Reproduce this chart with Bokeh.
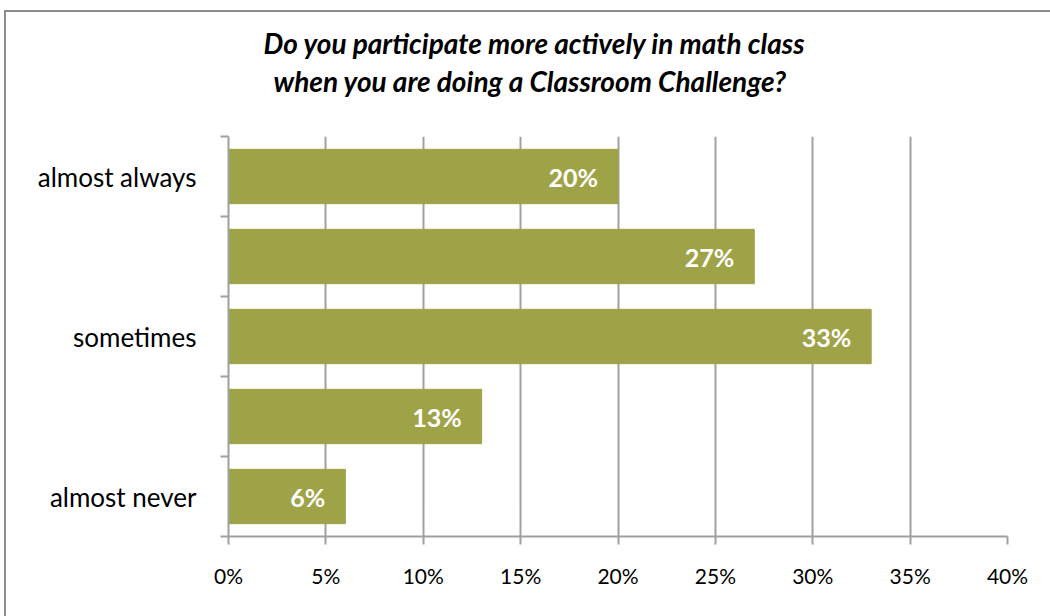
from bokeh.plotting import figure
from bokeh.models import ColumnDataSource, FixedTicker, Range1d, LabelSet, Title
from bokeh.core.properties import value
from bokeh.embed import file_html
from bokeh.resources import INLINE

# ---- data ----
categories = ["almost always", "", "sometimes", "", "almost never"]  # top to bottom
values = [20, 27, 33, 13, 6]
x_ticks = [0, 5, 10, 15, 20, 25, 30, 35, 40]
x_tick_labels = ["0%", "5%", "10%", "15%", "20%", "25%", "30%", "35%", "40%"]
title_lines = ["Do you participate more actively in math class",
               "when you are doing a Classroom Challenge?"]

FONT = "Lato"
BAR = "#9FA347"
GRID = "#A0A0A0"

n = len(categories)
ypos = [n - 0.5 - i for i in range(n)]
src = ColumnDataSource(dict(y=ypos, v=values, lab=[f"{v}%" for v in values]))

p = figure(width=1046, height=606, output_backend="svg", toolbar_location=None,
           x_range=Range1d(0, 40), y_range=Range1d(0, n),
           min_border_left=222, min_border_right=45, min_border_top=124, min_border_bottom=82)
p.margin = (10, 0, 0, 4)
p.styles = {"border-top": "2px solid #8C8C8C", "border-left": "2px solid #8C8C8C"}
p.outline_line_color = None

p.hbar(y="y", right="v", left=0, height=0.68, color=BAR, source=src)

labels = LabelSet(x="v", y="y", text="lab", source=src, x_offset=-20,
                  text_align="right", text_baseline="middle", text_color="white",
                  text_font=value(FONT), text_font_style="bold", text_font_size="25px")
p.add_layout(labels)

# x axis
p.xaxis.ticker = FixedTicker(ticks=x_ticks)
p.xaxis.major_label_overrides = {t: l for t, l in zip(x_ticks, x_tick_labels)}
p.xaxis.axis_line_color = GRID
p.xaxis.axis_line_width = 2
p.xaxis.major_tick_line_color = GRID
p.xaxis.major_tick_line_width = 2
p.xaxis.major_tick_in = 0
p.xaxis.major_tick_out = 8
p.xaxis.minor_tick_line_color = None
p.xaxis.major_label_text_font = FONT
p.xaxis.major_label_text_font_size = "21px"
p.xaxis.major_label_text_color = "black"
p.xaxis.major_label_standoff = 18

# y axis: labels at centers, ticks at boundaries (as minor ticks)
p.yaxis.ticker = FixedTicker(ticks=ypos, minor_ticks=list(range(n + 1)))
p.yaxis.major_label_overrides = {y: c for y, c in zip(ypos, categories)}
p.yaxis.axis_line_color = GRID
p.yaxis.axis_line_width = 2
p.yaxis.major_tick_line_color = None
p.yaxis.minor_tick_line_color = GRID
p.yaxis.minor_tick_line_width = 2
p.yaxis.minor_tick_in = 0
p.yaxis.minor_tick_out = 8
p.yaxis.major_label_text_font = FONT
p.yaxis.major_label_text_font_size = "26px"
p.yaxis.major_label_text_color = "black"
p.yaxis.major_label_standoff = 24

p.ygrid.grid_line_color = None
p.xgrid.ticker = FixedTicker(ticks=x_ticks)
p.xgrid.grid_line_color = GRID
p.xgrid.grid_line_width = 2

# spacer between the plot area and the title block
p.add_layout(Title(text=" ", text_font_size="2px", standoff=34), "above")
# two-line title (later-added title sits on top)
title_offsets = [35, 45]
title_standoffs = [2, 2]
for line, off, so in reversed(list(zip(title_lines, title_offsets, title_standoffs))):
    p.add_layout(Title(text=line, align="left", offset=off, standoff=so,
                       text_font=FONT, text_font_style="bold italic",
                       text_font_size="28px", text_color="black"), "above")

open("out.html", "w").write(file_html(p, INLINE))
